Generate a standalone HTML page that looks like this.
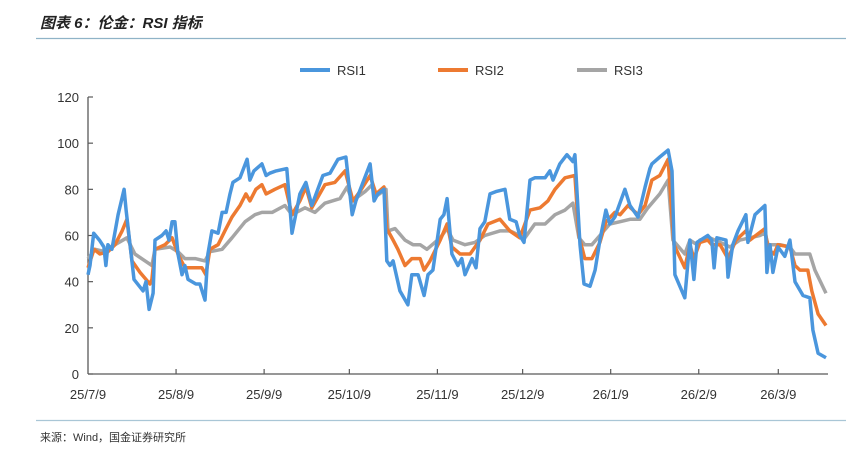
<!DOCTYPE html>
<html><head><meta charset="utf-8"><style>
body{margin:0;background:#fff;}
svg{display:block;font-family:"Liberation Sans","Noto Sans CJK SC",sans-serif;}
</style></head><body>
<svg id="c" width="846" height="453">
<text x="40" y="28" font-size="15" font-style="italic" font-weight="bold" fill="#222">图表 6：伦金：RSI 指标</text>
<line x1="36" y1="38.5" x2="846" y2="38.5" stroke="#8fb3c7" stroke-width="1.2"/>
<line x1="36" y1="420.5" x2="846" y2="420.5" stroke="#a9c6d6" stroke-width="1.2"/>
<text x="40" y="441" font-size="11" fill="#333">来源：Wind，国金证券研究所</text>
<g id="legend"></g>
<g id="axes"></g>
<g id="plot"></g>
</svg>
<script>
const yTicks=[0,20,40,60,80,100,120];
const xTickLabels=["25/7/9","25/8/9","25/9/9","25/10/9","25/11/9","25/12/9","26/1/9","26/2/9","26/3/9"];
const xTickDays=[0,31,62,92,123,153,184,215,243];
const seriesNames=["RSI1","RSI2","RSI3"];
const seriesColors=["#4a96dd","#ed7a31","#a5a5a5"];
const rsi1Days=[0,0.7,2,4,5.6,6.3,7,8.4,10.6,12.7,13.4,16.2,19.4,20.4,21.5,22.9,23.6,26,27.5,28.5,29.6,30.6,31.7,33.1,34.1,35.2,38,39.4,41.2,42.2,43.6,45.8,47.2,48.6,50,51,53.5,56,57,58.4,61.2,62.7,64,66.2,70,71.8,74.6,76.7,78.8,82.7,85.2,88,90.8,93,94.3,99.3,100.7,102,104.2,105.2,106.3,107.4,109.8,112.6,114,116.2,118.3,119.7,121.4,124,125.3,126.4,128.1,130.2,131.6,132.7,135.2,136.6,138,139.7,141.5,143.6,146.8,148.5,150.7,152,153.5,155.6,157.3,160.9,162.6,163.7,166.1,168.6,170.7,171.4,173.2,174.6,176.7,178.5,180.2,182.3,183.7,185.5,189,190.8,193.6,196.1,197.8,198.5,201.3,204.2,205.6,206.6,210.1,211.9,213.3,214.4,218.2,219.6,220.4,221.4,224.6,225.3,227,228.8,231.6,232.3,234.8,238.3,239,240.1,241.1,242.9,245.3,247.1,248.9,251.7,254.1,255.2,257,259.8];
const rsi1Values=[43,47,61,58,55,47,56,54,69,80,71,41,36,40,28,35,58,60,62,58,66,66,52,43,47,41,39,39,32,52,62,61,70,70,78,83,85,93,84,88,91,86,87,88,89,61,78,83,73,86,87,93,94,69,75,91,75,78,80,49,47,49,36,30,43,43,34,43,45,67,69,76,52,47,50,43,50,46,63,66,78,79,80,67,66,60,57,84,85,85,88,84,91,95,92,95,56,39,38,45,58,71,65,68,80,73,68,81,89,91,94,97,88,43,33,58,41,57,60,58,46,59,58,42,56,62,69,57,69,73,44,56,44,55,51,58,40,34,33,19,9,7];
const rsi2Days=[0,2.1,4.2,7,9.5,12,13.7,15.5,18.3,21.8,22.5,23.6,27.1,29.6,31.7,34.1,37.7,40.1,41.5,42.9,45.8,48.2,50.7,53.5,55.6,57,59.1,61.2,62.7,65.8,69.3,71.8,74.6,76.7,78.8,83.4,86.9,90.5,93.3,95.7,99.3,101.4,104.2,105.2,107.4,109.1,111.6,114,116.9,118.3,120.4,124,126.4,128.1,131,134.5,138,140.8,145,148.5,152,155.6,159.1,161.9,164.4,167.9,171.4,172.8,174.9,177.4,180.2,182.3,185.5,187.3,190.1,193.6,196.1,198.5,201.3,204.2,206.3,210.1,211.9,213.3,215.4,218.2,219.6,222.5,225.3,228.1,231.6,233,235.1,238.3,239.4,241.5,242.9,247.1,248.9,250.6,253.4,254.8,257,259.8];
const rsi2Values=[46,54,52,53,56,62,67,49,44,39,41,54,56,59,52,46,46,46,43,54,56,62,68,73,78,75,80,82,78,80,82,69,75,81,72,82,83,88,75,79,86,78,81,63,58,54,47,50,50,45,49,58,65,55,52,52,58,65,67,62,59,71,72,75,80,85,86,60,50,50,57,66,70,69,73,69,73,84,86,93,56,46,56,50,57,58,56,56,50,58,62,58,60,63,54,52,56,55,47,45,45,36,26,21];
const rsi3Days=[0,2.5,6,9.5,13.7,16.5,20.1,22.5,23.6,28.9,31.7,34.1,37.7,41.2,42.9,47.2,50.7,55.3,58.8,61.2,64.8,69.3,71.8,76.4,79.9,83.4,88.7,91.2,93,97.5,100,101.4,104.9,105.6,108.1,111.6,114.4,116.9,119.3,124,126.4,128.5,132.7,136.2,139.7,145,148.5,153.8,157.3,160.9,164.4,167.9,170.7,172.8,174.9,177.4,180.2,183.7,187.3,190.8,194.3,197.1,201.3,204.2,205.9,210.1,211.9,214.4,215.4,218.9,222.5,226,229.5,233,236.5,238.3,239.4,243.6,247.1,248.9,254.1,255.9,259.8];
const rsi3Values=[50,54,53,56,59,52,49,47,54,55,53,50,50,49,53,54,59,66,69,70,70,73,69,72,70,74,76,81,75,79,82,77,80,62,63,58,56,56,54,59,63,58,56,57,60,62,62,59,65,65,69,71,74,59,56,56,60,65,66,67,67,72,78,84,58,52,58,56,58,59,57,55,58,59,60,61,56,56,55,52,52,45,35];

const NS="http://www.w3.org/2000/svg";
const X0=88,X1=828,Y0=374,Y1=97,DMAX=260.5;
function xScale(d){return X0+d*(X1-X0)/DMAX;}
function yScale(v){return Y0-v*(Y0-Y1)/120;}
function mk(tag,attrs,parent){const e=document.createElementNS(NS,tag);for(const k in attrs)e.setAttribute(k,attrs[k]);parent.appendChild(e);return e;}
const axes=document.getElementById('axes'),plot=document.getElementById('plot'),legend=document.getElementById('legend');
let a=mk('line',{x1:X0,y1:Y1,x2:X0,y2:Y0,stroke:'#595959','stroke-width':1.3},axes);


a=mk('line',{x1:X0,y1:Y0,x2:X1,y2:Y0,stroke:'#595959','stroke-width':1.3},axes);


yTicks.forEach(v=>{
  const y=yScale(v);
  const t=mk('line',{x1:X0,y1:y,x2:X0+5,y2:y,stroke:'#595959','stroke-width':1.2},axes);
  
  
  const l=mk('text',{x:79,y:y+5,'text-anchor':'end','font-size':13,fill:'#333'},axes);
  l.textContent=v;
  
  
});
xTickLabels.forEach((s,i)=>{
  const x=xScale(xTickDays[i]);
  if(i>0){const t=mk('line',{x1:x,y1:Y0,x2:x,y2:Y0-5,stroke:'#595959','stroke-width':1.2},axes);
  
  }
  const l=mk('text',{x:x,y:399,'text-anchor':'middle','font-size':13,fill:'#333'},axes);
  l.textContent=s;
  
  
});
const all=[[rsi1Days,rsi1Values],[rsi2Days,rsi2Values],[rsi3Days,rsi3Values]];
[2,1,0].forEach(i=>{
  const [d,v]=all[i];
  const pts=d.map((dd,k)=>xScale(dd).toFixed(1)+','+yScale(v[k]).toFixed(1)).join(' ');
  const p=mk('polyline',{points:pts,fill:'none',stroke:seriesColors[i],'stroke-width':3.5,'stroke-linejoin':'round'},plot);
  
  
});
const lx=[300,438,577];
seriesNames.forEach((n,i)=>{
  const l=mk('line',{x1:lx[i],y1:70,x2:lx[i]+30,y2:70,stroke:seriesColors[i],'stroke-width':4},legend);
  
  
  const t=mk('text',{x:lx[i]+37,y:75,'font-size':13,fill:'#333'},legend);
  t.textContent=n;
  
  
});
</script>
</body></html>
